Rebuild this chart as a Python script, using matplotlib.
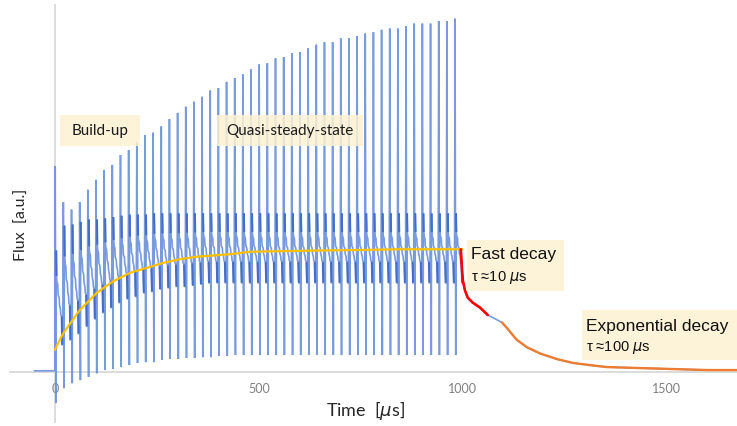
import numpy as np
import matplotlib
matplotlib.use("Agg")
import matplotlib.pyplot as plt
from matplotlib.collections import LineCollection
from matplotlib.patches import Rectangle

# ---------------- data ----------------
pulse_times = [20 * k for k in range(50)]  # µs, one pulse every 20 µs
pulse_top = [1.66, 1.37, 1.31, 1.37, 1.47, 1.55, 1.63, 1.67, 1.75, 1.79,
             1.85, 1.91, 1.93, 1.98, 2.04, 2.09, 2.14, 2.18, 2.22, 2.27,
             2.29, 2.34, 2.37, 2.40, 2.44, 2.48, 2.49, 2.53, 2.54, 2.57,
             2.58, 2.61, 2.64, 2.66, 2.66, 2.69, 2.69, 2.71, 2.73, 2.74,
             2.76, 2.77, 2.77, 2.79, 2.81, 2.81, 2.81, 2.83, 2.83, 2.85]
pulse_bottom = [-0.25, -0.13, -0.09, -0.065, -0.04, -0.01, 0.016, 0.024, 0.04, 0.056,
                0.073, 0.08, 0.08, 0.097, 0.105, 0.105, 0.113, 0.113, 0.12, 0.12,
                0.13, 0.13, 0.137, 0.137, 0.137, 0.137, 0.137, 0.137, 0.137, 0.137,
                0.137, 0.137, 0.137, 0.137, 0.137, 0.137, 0.137, 0.137, 0.137, 0.137,
                0.137, 0.137, 0.137, 0.137, 0.137, 0.137, 0.137, 0.137, 0.137, 0.137]
pulse_high = [0.98, 1.18, 1.19, 1.21, 1.23, 1.23, 1.24, 1.25, 1.26, 1.27,
              1.27, 1.27, 1.28, 1.28, 1.28, 1.28, 1.28, 1.28, 1.28, 1.28,
              1.28, 1.28, 1.28, 1.28, 1.28, 1.28, 1.28, 1.28, 1.28, 1.28,
              1.28, 1.28, 1.28, 1.28, 1.28, 1.28, 1.28, 1.28, 1.28, 1.28,
              1.28, 1.28, 1.28, 1.28, 1.28, 1.28, 1.28, 1.28, 1.28, 1.28]
pulse_low = [0.22, 0.26, 0.31, 0.37, 0.43, 0.48, 0.52, 0.56, 0.59, 0.61,
             0.64, 0.65, 0.67, 0.68, 0.69, 0.69, 0.70, 0.71, 0.72, 0.72,
             0.72, 0.72, 0.72, 0.72, 0.72, 0.72, 0.72, 0.72, 0.72, 0.72,
             0.72, 0.72, 0.72, 0.72, 0.72, 0.72, 0.72, 0.72, 0.72, 0.72,
             0.72, 0.72, 0.72, 0.72, 0.72, 0.72, 0.72, 0.72, 0.72, 0.72]
# shape of the signal between two pulses: (time after pulse, fraction from high to low)
period_shape_t = [4.0, 5.0, 7.0, 8.0, 10.5, 11.5, 13.5, 14.5, 16.8, 18.0, 19.5]
period_shape_f = [0.27, 0.33, 0.36, 0.47, 0.50, 0.58, 0.62, 0.68, 0.70, 1.00, 1.00]
baseline_t = [-50, 0]
baseline_y = [0.01, 0.01]

mean_t = [0, 20, 61, 103, 142, 184, 225, 265, 306, 348, 387, 429, 478, 560, 650, 760, 846, 930, 998]
mean_y = [0.18, 0.31, 0.50, 0.64, 0.73, 0.80, 0.84, 0.88, 0.91, 0.93, 0.94, 0.95, 0.97, 0.975,
          0.98, 0.985, 0.99, 0.99, 0.99]

decay_t = [995, 997.5, 1000, 1005, 1012, 1024, 1042, 1061, 1096, 1108, 1132, 1157, 1189,
           1230, 1270, 1311, 1353, 1434, 1515, 1598, 1672]
decay_y = [0.99, 0.85, 0.74, 0.66, 0.60, 0.56, 0.52, 0.46, 0.40, 0.355, 0.26, 0.20, 0.15,
           0.105, 0.073, 0.056, 0.04, 0.032, 0.024, 0.016, 0.016]
fast_fit_range = (995, 1061)
exp_fit_range = (1096, 1672)

xticks = [0, 500, 1000, 1500]

# ---------------- build the pulse-train polyline ----------------
sig_t = list(baseline_t)
sig_y = list(baseline_y)
dark_segs = []
for t0, top, bot, hi, lo in zip(pulse_times, pulse_top, pulse_bottom, pulse_high, pulse_low):
    sig_t += [t0 + 0.8, t0 + 2.6, t0 + 3.2]
    sig_y += [top, bot, hi]
    levels = [hi - f * (hi - lo) for f in period_shape_f]
    sig_t += [t0 + d for d in period_shape_t]
    sig_y += levels
    dark_segs.append([(t0 + 3.2, hi), (t0 + 4.0, levels[0])])
    dark_segs.append([(t0 + 16.8, levels[8]), (t0 + 18.0, levels[9])])
sig_t += decay_t
sig_y += decay_y

# ---------------- figure ----------------
W, H = 737, 426
fig = plt.figure(figsize=(W / 100, H / 100), dpi=100)
ax_left, ax_right, ax_top, ax_bot = 10, 737, 5, 422
ax = fig.add_axes([ax_left / W, 1 - ax_bot / H, (ax_right - ax_left) / W, (ax_bot - ax_top) / H])
ax.set_xlim(-110, 1672)
ax.set_ylim(-0.403, 2.96)

ax.plot(sig_t, sig_y, color="#6890DA", lw=1.2, alpha=0.9, zorder=2, solid_joinstyle="miter")
ax.add_collection(LineCollection(dark_segs, colors="#426DC8", linewidths=1.5, zorder=2.5))

ax.plot(mean_t, mean_y, color="#FFC000", lw=1.6, zorder=4)

dt = np.array(decay_t); dy = np.array(decay_y)
m1 = (dt >= fast_fit_range[0]) & (dt <= fast_fit_range[1])
m2 = (dt >= exp_fit_range[0]) & (dt <= exp_fit_range[1])
ax.plot(dt[m1], dy[m1], color="#FF0000", lw=1.9, zorder=4, solid_capstyle="round")
ax.plot(dt[m2], dy[m2], color="#ED7D31", lw=1.7, zorder=4, solid_capstyle="round")

for s in ["top", "right"]:
    ax.spines[s].set_visible(False)
ax.spines["left"].set_position(("data", 0))
ax.spines["bottom"].set_position(("data", 0))
for s in ["left", "bottom"]:
    ax.spines[s].set_color("#D9D9D9")
    ax.spines[s].set_linewidth(1.3)
    ax.spines[s].set_zorder(1)
ax.set_yticks([])
ax.set_xticks(xticks)
ax.set_xticklabels([str(v) for v in xticks], fontfamily="Lato", fontsize=9, color="#7F7F7F")
ax.tick_params(axis="x", length=0, pad=8)
ax.patch.set_alpha(0)

# axis titles
fig.text(366 / W, 1 - 410 / H, r"Time  [$\mu$s]", ha="center", va="center",
         fontfamily="Lato", fontsize=13, color="#262626")
fig.text(22 / W, 1 - 225 / H, "Flux  [a.u.]", ha="center", va="center", rotation=90,
         fontfamily="Lato", fontsize=11.5, color="#262626")

# annotation boxes
box_color = "#FDF2D3"
def box(x0, y0, x1, y1):
    fig.patches.append(Rectangle((x0 / W, 1 - y1 / H), (x1 - x0) / W, (y1 - y0) / H,
                                 transform=fig.transFigure, facecolor=box_color,
                                 edgecolor="none", alpha=0.85, zorder=5))

box(60, 115, 140, 146)
fig.text(100 / W, 1 - 131 / H, "Build-up", ha="center", va="center",
         fontfamily="Lato", fontsize=11, color="#1a1a1a", zorder=6)
box(217, 115, 363, 146)
fig.text(290 / W, 1 - 131 / H, "Quasi-steady-state", ha="center", va="center",
         fontfamily="Lato", fontsize=11, color="#1a1a1a", zorder=6)
box(467, 240, 564, 291)
fig.text(471 / W, 1 - 255 / H, "Fast decay", ha="left", va="center",
         fontfamily="Liberation Sans", fontsize=12.5, color="#111111", zorder=6)
fig.text(471 / W, 1 - 277 / H, r"τ ≈10 $\mu$s", ha="left", va="center",
         fontfamily="Liberation Sans", fontsize=10.5, color="#111111", zorder=6)
box(582, 310, 737, 360)
fig.text(586 / W, 1 - 326 / H, "Exponential decay", ha="left", va="center",
         fontfamily="Liberation Sans", fontsize=12.5, color="#111111", zorder=6)
fig.text(586 / W, 1 - 348 / H, r"τ ≈100 $\mu$s", ha="left", va="center",
         fontfamily="Liberation Sans", fontsize=10.5, color="#111111", zorder=6)

fig.savefig("out.png", dpi=100)
